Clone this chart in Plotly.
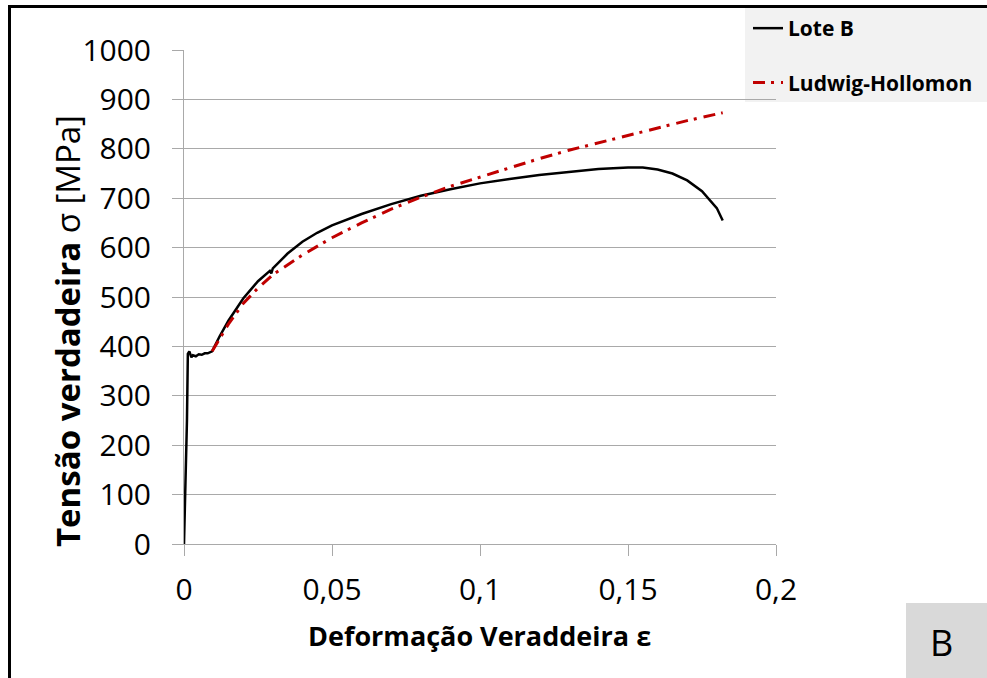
import plotly.graph_objects as go

# True stress-strain curve, batch B
strain_b = [0, 0.0005, 0.001, 0.0013, 0.0018, 0.0025, 0.003, 0.004, 0.005, 0.006, 0.007,
            0.008, 0.009, 0.0095, 0.012, 0.015, 0.02, 0.025, 0.029, 0.0295, 0.03, 0.035,
            0.04, 0.045, 0.05, 0.06, 0.07, 0.08, 0.09, 0.1, 0.11, 0.12, 0.13, 0.14,
            0.15, 0.155, 0.16, 0.165, 0.17, 0.175, 0.18, 0.182]
stress_b = [0, 120, 250, 385, 390, 378, 382, 380, 384, 383, 386,
            386, 388, 390, 420, 452, 497, 532, 553, 548, 558, 588,
            612, 630, 645, 668, 688, 705, 718, 730, 739, 747, 753, 759,
            762, 762, 758, 750, 736, 714, 680, 655]

# Ludwig-Hollomon fit
strain_lh = [0.0095, 0.015, 0.02, 0.025, 0.03, 0.04, 0.05, 0.06, 0.07, 0.08, 0.09,
             0.1, 0.11, 0.12, 0.13, 0.14, 0.15, 0.16, 0.17, 0.182]
stress_lh = [390, 445, 487, 518, 545, 585, 620, 650, 678, 702, 724,
             743, 762, 780, 797, 812, 828, 843, 857, 873]

x_ticks = [0, 0.05, 0.1, 0.15, 0.2]
x_tick_text = ["0", "0,05", "0,1", "0,15", "0,2"]
y_ticks = list(range(0, 1001, 100))

FONT = "Open Sans"
GRID = "#a9a9a9"

# plot area in page pixels
L, R, T, B = 184, 776, 50, 544
W, H = 987, 678


def px(xp):
    return (xp - L) / (R - L)


def py(yp):
    return (B - yp) / (B - T)


fig = go.Figure()
fig.add_trace(go.Scatter(x=strain_b, y=stress_b, mode="lines", name="<b>Lote B</b>",
                         line=dict(color="black", width=2.5), legendgroup="a"))
fig.add_trace(go.Scatter(x=strain_lh, y=stress_lh, mode="lines", name="<b>Ludwig-Hollomon</b>",
                         line=dict(color="#c00000", width=3, dash="12px,6px,3px,7px"),
                         legendgroup="b"))

shapes = [
    # legend panel
    dict(type="rect", xref="paper", yref="paper", x0=px(745), x1=px(990), y0=py(102), y1=py(8),
         fillcolor="#f2f2f2", line=dict(width=0), layer="below"),
    # panel label box
    dict(type="rect", xref="paper", yref="paper", x0=px(906), x1=px(990), y0=py(682), y1=py(603),
         fillcolor="#d9d9d9", line=dict(width=0), layer="below"),
    # frame
    dict(type="line", xref="paper", yref="paper", x0=px(9.5), x1=px(9.5), y0=py(5), y1=py(690),
         line=dict(color="black", width=3)),
    dict(type="line", xref="paper", yref="paper", x0=px(8), x1=px(995), y0=py(6.5), y1=py(6.5),
         line=dict(color="black", width=3)),
]

annotations = [
    dict(text="<b>Tensão verdadeira</b> σ [MPa]", xref="paper", yref="paper",
         x=px(67), y=py(331), textangle=-90, showarrow=False,
         font=dict(family=FONT, size=33, color="black"), xanchor="center", yanchor="middle"),
    dict(text="<b>Deformação Veraddeira ε</b>", xref="paper", yref="paper",
         x=px(479), y=py(635), showarrow=False,
         font=dict(family=FONT, size=27, color="black"), xanchor="center", yanchor="middle"),
    dict(text="B", xref="paper", yref="paper", x=px(941), y=py(642), showarrow=False,
         font=dict(family=FONT, size=36, color="black"), xanchor="center", yanchor="middle"),
]

fig.update_layout(
    width=W, height=H,
    margin=dict(l=L, r=W - R, t=T, b=H - B, autoexpand=False),
    paper_bgcolor="white", plot_bgcolor="white",
    font=dict(family=FONT, color="black"),
    shapes=shapes, annotations=annotations,
    showlegend=True,
    legend=dict(x=px(748), y=py(8), xanchor="left", yanchor="top",
                bgcolor="rgba(0,0,0,0)", font=dict(family=FONT, size=21, color="black"),
                tracegroupgap=24, traceorder="grouped", itemwidth=30),
    xaxis=dict(range=[0, 0.2], tickvals=x_ticks, ticktext=x_tick_text,
               showgrid=False, zeroline=False, showline=True, linecolor=GRID, linewidth=1,
               ticks="outside", ticklen=11, tickcolor=GRID, tickwidth=1,
               tickfont=dict(family=FONT, size=30), ticklabelstandoff=8),
    yaxis=dict(range=[0, 1000], tickvals=y_ticks,
               showgrid=True, gridcolor=GRID, gridwidth=1, zeroline=False,
               showline=True, linecolor=GRID, linewidth=1,
               ticks="outside", ticklen=11, tickcolor=GRID, tickwidth=1,
               tickfont=dict(family=FONT, size=30), ticklabelstandoff=15),
)

fig.write_html("out.html")
